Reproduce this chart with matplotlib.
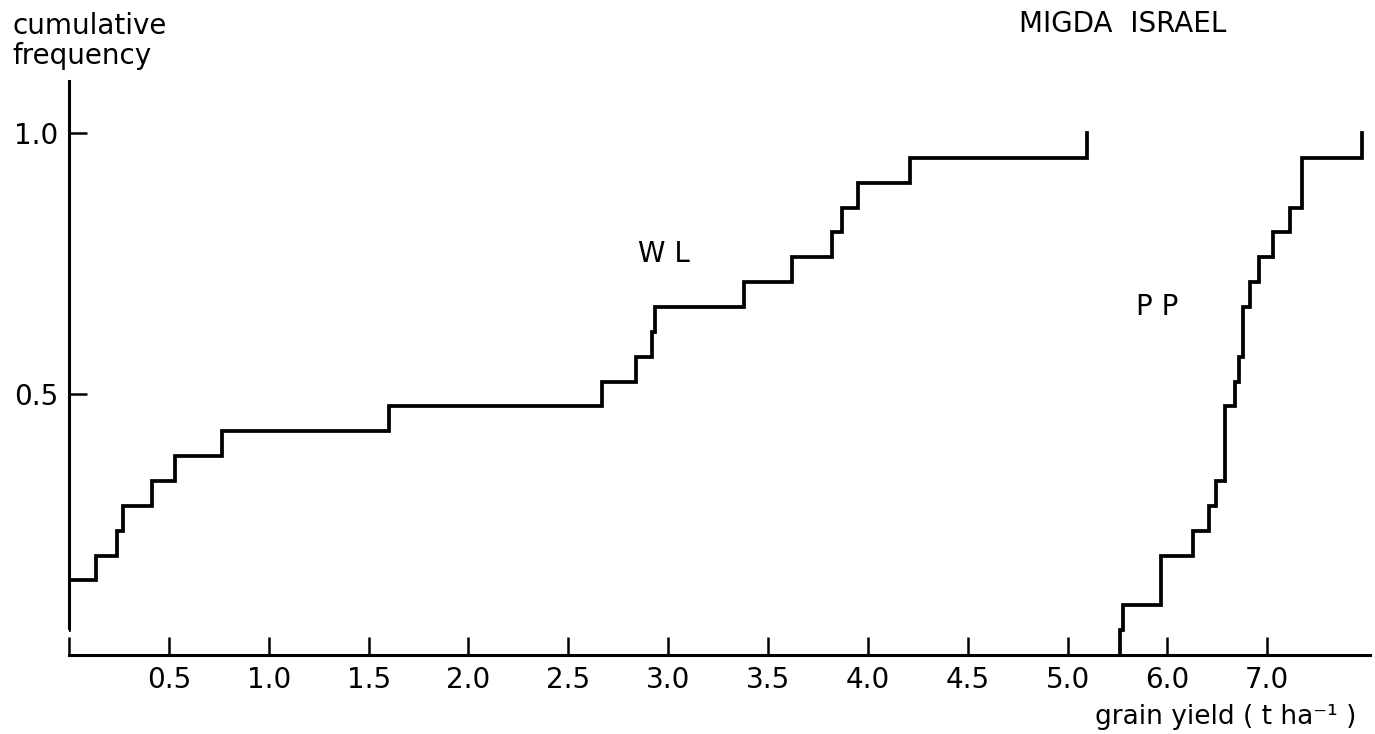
import numpy as np
import matplotlib
matplotlib.use("Agg")
import matplotlib.pyplot as plt

plt.rcParams['font.family'] = ['DejaVu Sans']

# ---------------- data ----------------
N_YEARS = 21
# WL (water-limited) yields: x positions of the steps and cumulative counts reached there
wl_x = [0.0, 0.0, 0.134, 0.239, 0.268, 0.418, 0.532, 0.767, 1.604, 2.669,
        2.84, 2.92, 2.935, 3.38, 3.62, 3.82, 3.87, 3.95, 4.21, 5.2]
wl_count = [1, 3, 4, 5, 6, 7, 8, 9, 10, 11,
            12, 13, 14, 15, 16, 17, 18, 19, 20, 21]
# PP (potential production) yields
pp_x = [5.522, 5.522, 5.56, 5.936, 6.26, 6.415, 6.488, 6.58, 6.68, 6.722,
        6.755, 6.828, 6.917, 7.06, 7.225, 7.347, 7.952]
pp_count = [0, 1, 2, 4, 5, 6, 7, 10, 11, 12,
            14, 15, 16, 17, 18, 20, 21]

x_ticks = [0.0, 0.5, 1.0, 1.5, 2.0, 2.5, 3.0, 3.5, 4.0, 4.5, 5.0, 6.0, 7.0]
x_tick_labels = ['', '0.5', '1.0', '1.5', '2.0', '2.5', '3.0', '3.5', '4.0',
                 '4.5', '5.0', '6.0', '7.0']
y_ticks = [0.5, 1.0]
y_tick_labels = ['0.5', '1.0']

# ---------------- scale: axis compressed by 2 beyond 5.0 ----------------
BREAK = 5.0
def fwd(x):
    x = np.asarray(x, dtype=float)
    return np.where(x <= BREAK, x, BREAK + (x - BREAK) / 2.0)

def inv(u):
    u = np.asarray(u, dtype=float)
    return np.where(u <= BREAK, u, BREAK + (u - BREAK) * 2.0)

# ---------------- figure ----------------
fig = plt.figure(figsize=(13.75, 7.34), dpi=100)
ax = fig.add_axes([0.0502, 0.1076, 0.9462, 0.7823])
ax.set_xscale('function', functions=(fwd, inv))

lw = 2.7
ax.step(wl_x, np.array(wl_count) / N_YEARS, where='post', color='black',
        lw=lw, solid_joinstyle='miter')
ax.step(pp_x, np.array(pp_count) / N_YEARS, where='post', color='black',
        lw=lw, solid_joinstyle='miter')

ax.set_xlim(0, 8.03)
ax.set_ylim(0, 1.1)

for s in ['top', 'right']:
    ax.spines[s].set_visible(False)
for s in ['left', 'bottom']:
    ax.spines[s].set_linewidth(2.2)
ax.spines['left'].set_bounds(0.052, 1.1)

fs = 20
ax.set_xticks(x_ticks)
ax.set_xticklabels(x_tick_labels)
ax.set_yticks(y_ticks)
ax.set_yticklabels(y_tick_labels)
ax.minorticks_off()
ax.tick_params(axis='both', direction='in', length=13, width=1.8,
               labelsize=fs, colors='black')
ax.tick_params(axis='x', pad=8)
ax.tick_params(axis='y', pad=8)

fig.text(12 / 1375, 1 - 26 / 734, 'cumulative', fontsize=fs, ha='left', va='center')
fig.text(12 / 1375, 1 - 56 / 734, 'frequency', fontsize=fs, ha='left', va='center')
fig.text(1123 / 1375, 1 - 24 / 734, 'MIGDA  ISRAEL', fontsize=fs, ha='center', va='center')
fig.text(664 / 1375, 1 - 254 / 734, 'W L', fontsize=fs, ha='center', va='center')
fig.text(1157 / 1375, 1 - 307 / 734, 'P P', fontsize=fs, ha='center', va='center')
fig.text(1356 / 1375, 1 - 724 / 734, 'grain yield ( t ha\u207b\u00b9 )', fontsize=19,
         ha='right', va='baseline')

fig.savefig('out.png', dpi=100, facecolor='white')
